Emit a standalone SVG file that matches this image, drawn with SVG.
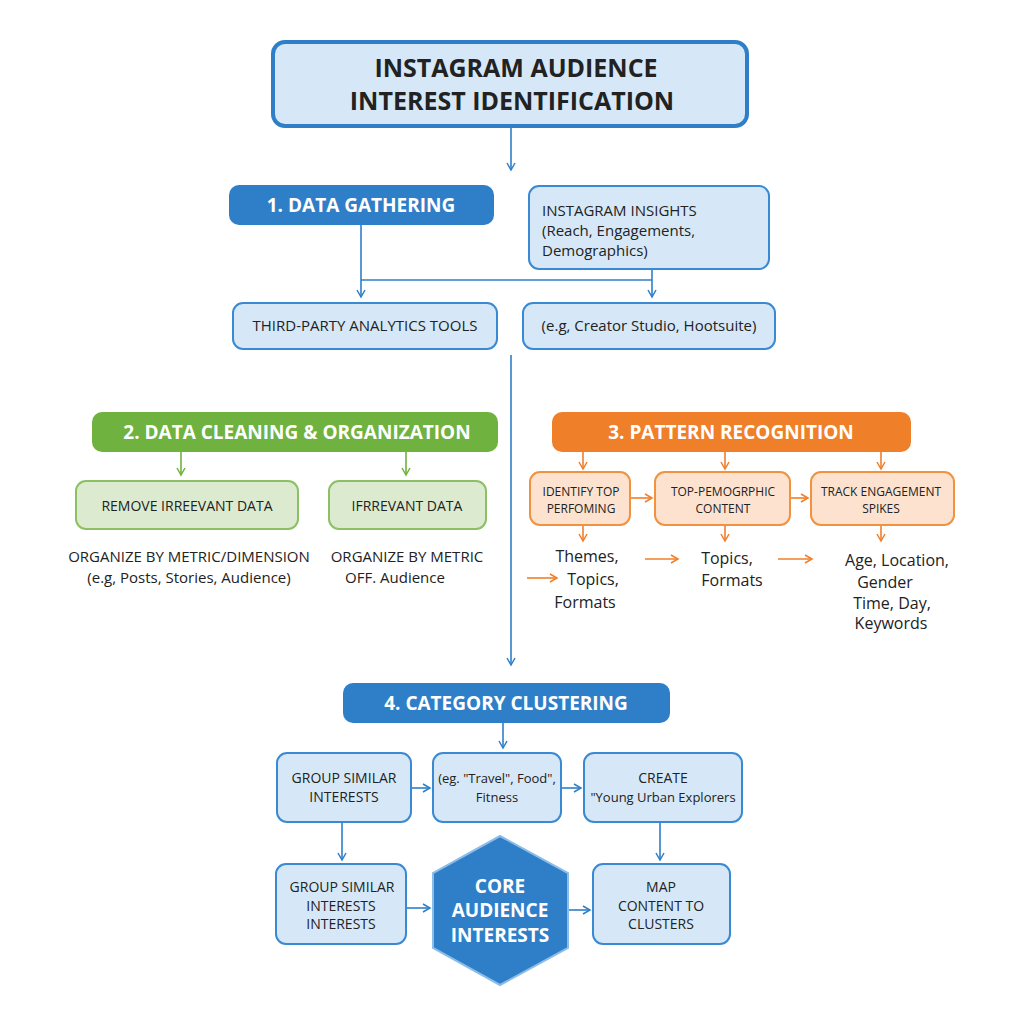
<svg xmlns="http://www.w3.org/2000/svg" width="1024" height="1024" viewBox="0 0 1024 1024">
<defs>
<marker id="ab" markerWidth="10" markerHeight="10" refX="8" refY="5" orient="auto" markerUnits="userSpaceOnUse"><path d="M1,1 L8,5 L1,9" fill="none" stroke="#2f7fc8" stroke-width="1.5"/></marker>
<marker id="ag" markerWidth="10" markerHeight="10" refX="8" refY="5" orient="auto" markerUnits="userSpaceOnUse"><path d="M1,1 L8,5 L1,9" fill="none" stroke="#6fb23f" stroke-width="1.5"/></marker>
<marker id="ao" markerWidth="10" markerHeight="10" refX="8" refY="5" orient="auto" markerUnits="userSpaceOnUse"><path d="M1,1 L8,5 L1,9" fill="none" stroke="#f07f2a" stroke-width="1.5"/></marker>
</defs>
<style>
text{font-family:"Open Sans","Liberation Sans",sans-serif;fill:#222;text-anchor:middle}
.b{fill:#d6e8f7;stroke:#3a8ad3;stroke-width:2}
.g{fill:#dcebd0;stroke:#8cc063;stroke-width:2}
.o{fill:#fde3cf;stroke:#f0923f;stroke-width:2}
.h{font-weight:bold;fill:#fff;font-size:19px}
.t{font-size:14px}
.s{font-size:15px}
.lb{stroke:#2f7fc8;stroke-width:1.6;fill:none}
.lg{stroke:#6fb23f;stroke-width:1.6;fill:none}
.lo{stroke:#f07f2a;stroke-width:1.6;fill:none}
</style>
<rect width="1024" height="1024" fill="#fff"/>
<g id="title"><rect x="273" y="42" width="474" height="84" rx="12" fill="#d6e8f7" stroke="#2f7fc8" stroke-width="4"/>
<text x="516" y="77" font-size="25" font-weight="bold" fill="#1a2330">INSTAGRAM AUDIENCE</text>
<text x="512" y="110" font-size="25" font-weight="bold" fill="#1a2330">INTEREST IDENTIFICATION</text></g>
<g id="connectors">
<path class="lb" d="M511,128 V170" marker-end="url(#ab)"/>
<path class="lb" d="M361,225 V297" marker-end="url(#ab)"/>
<path class="lb" d="M361,280 H652"/>
<path class="lb" d="M652,269 V297" marker-end="url(#ab)"/>
<path class="lb" d="M511,355 V665" marker-end="url(#ab)"/>
<path class="lg" d="M181,452 V475" marker-end="url(#ag)"/>
<path class="lg" d="M406,452 V475" marker-end="url(#ag)"/>
<path class="lo" d="M583,452 V469" marker-end="url(#ao)"/>
<path class="lo" d="M725,452 V469" marker-end="url(#ao)"/>
<path class="lo" d="M881,452 V469" marker-end="url(#ao)"/>
<path class="lo" d="M630,498 H652" marker-end="url(#ao)"/>
<path class="lo" d="M790,498 H808" marker-end="url(#ao)"/>
<path class="lo" d="M583,525 V541" marker-end="url(#ao)"/>
<path class="lo" d="M725,525 V541" marker-end="url(#ao)"/>
<path class="lo" d="M881,525 V541" marker-end="url(#ao)"/>
<path class="lo" d="M527,578 H557" marker-end="url(#ao)"/>
<path class="lo" d="M645,559 H678" marker-end="url(#ao)"/>
<path class="lo" d="M778,559 H812" marker-end="url(#ao)"/>
<path class="lb" d="M503,723 V748" marker-end="url(#ab)"/>
<path class="lb" d="M411,788 H430" marker-end="url(#ab)"/>
<path class="lb" d="M561,788 H581" marker-end="url(#ab)"/>
<path class="lb" d="M342,822 V860" marker-end="url(#ab)"/>
<path class="lb" d="M660,822 V860" marker-end="url(#ab)"/>
<path class="lb" d="M406,908 H430" marker-end="url(#ab)"/>
<path class="lb" d="M568,910 H590" marker-end="url(#ab)"/>
</g>
<g id="s1"><rect x="229" y="185" width="265" height="40" rx="10" fill="#2f7fc8"/><text class="h" x="361" y="212">1. DATA GATHERING</text></g>
<g id="insights"><rect class="b" x="529" y="186" width="240" height="83" rx="10"/>
<text class="s" x="542" y="216" style="text-anchor:start">INSTAGRAM INSIGHTS</text>
<text class="s" x="542" y="236" style="text-anchor:start">(Reach, Engagements,</text>
<text class="s" x="542" y="256" style="text-anchor:start">Demographics)</text></g>
<g id="third"><rect class="b" x="233" y="303" width="264" height="46" rx="10"/><text class="s" x="365" y="331">THIRD-PARTY ANALYTICS TOOLS</text></g>
<g id="creator"><rect class="b" x="523" y="303" width="252" height="46" rx="10"/><text class="s" x="649" y="331">(e.g, Creator Studio, Hootsuite)</text></g>
<g id="s2"><rect x="92" y="412" width="406" height="40" rx="10" fill="#6fb23f"/><text class="h" x="297" y="439">2. DATA CLEANING &amp; ORGANIZATION</text></g>
<g id="remove"><rect class="g" x="76" y="481" width="222" height="48" rx="10"/><text class="t" x="187" y="511">REMOVE IRREEVANT DATA</text></g>
<g id="irr"><rect class="g" x="329" y="481" width="157" height="48" rx="10"/><text class="t" x="407" y="511">IFRREVANT DATA</text></g>
<g id="org1"><text class="s" x="189" y="562">ORGANIZE BY METRIC/DIMENSION</text><text class="s" x="189" y="583">(e.g, Posts, Stories, Audience)</text></g>
<g id="org2"><text class="s" x="407" y="562">ORGANIZE BY METRIC</text><text class="s" x="395" y="583">OFF. Audience</text></g>
<g id="s3"><rect x="552" y="412" width="359" height="40" rx="10" fill="#f07f2a"/><text class="h" x="731" y="439">3. PATTERN RECOGNITION</text></g>
<g id="o1"><rect class="o" x="530" y="472" width="100" height="53" rx="10"/><text x="581" y="496" font-size="12">IDENTIFY TOP</text><text x="581" y="513" font-size="12">PERFOMING</text></g>
<g id="o2"><rect class="o" x="655" y="472" width="135" height="53" rx="10"/><text x="723" y="496" font-size="12">TOP-PEMOGRPHIC</text><text x="723" y="513" font-size="12">CONTENT</text></g>
<g id="o3"><rect class="o" x="811" y="472" width="143" height="53" rx="10"/><text x="881" y="496" font-size="12">TRACK ENGAGEMENT</text><text x="881" y="513" font-size="12">SPIKES</text></g>
<g id="t1"><text font-size="16" x="587" y="562">Themes,</text><text font-size="16" x="593" y="585">Topics,</text><text font-size="16" x="585" y="608">Formats</text></g>
<g id="t2"><text font-size="16" x="727" y="564">Topics,</text><text font-size="16" x="732" y="586">Formats</text></g>
<g id="t3"><text font-size="16" x="897" y="566">Age, Location,</text><text font-size="16" x="885" y="588">Gender</text><text font-size="16" x="892" y="609">Time, Day,</text><text font-size="16" x="891" y="629">Keywords</text></g>
<g id="s4"><rect x="343" y="683" width="327" height="40" rx="10" fill="#2f7fc8"/><text class="h" x="506" y="710">4. CATEGORY CLUSTERING</text></g>
<g id="c1"><rect class="b" x="277" y="753" width="134" height="69" rx="10"/><text class="t" x="344" y="783">GROUP SIMILAR</text><text class="t" x="344" y="802">INTERESTS</text></g>
<g id="c2"><rect class="b" x="433" y="753" width="128" height="69" rx="10"/><text font-size="13" x="497" y="783">(eg. "Travel", Food",</text><text font-size="13" x="497" y="802">Fitness</text></g>
<g id="c3"><rect class="b" x="584" y="753" width="158" height="69" rx="10"/><text class="t" x="663" y="783">CREATE</text><text font-size="13" x="663" y="802">"Young Urban Explorers</text></g>
<g id="c4"><rect class="b" x="276" y="864" width="130" height="80" rx="10"/><text class="t" x="342" y="892">GROUP SIMILAR</text><text class="t" x="341" y="911">INTERESTS</text><text class="t" x="341" y="929">INTERESTS</text></g>
<g id="core"><polygon points="500,836 568,873 568,948 500,985 433,948 433,873" fill="#2f7fc8" stroke="#8cbce8" stroke-width="2"/>
<text class="h" x="500" y="893" font-size="20">CORE</text><text class="h" x="500" y="917" font-size="20">AUDIENCE</text><text class="h" x="500" y="942" font-size="20">INTERESTS</text></g>
<g id="c5"><rect class="b" x="593" y="864" width="137" height="80" rx="10"/><text class="t" x="661" y="892">MAP</text><text class="t" x="661" y="911">CONTENT TO</text><text class="t" x="661" y="929">CLUSTERS</text></g>
</svg>
